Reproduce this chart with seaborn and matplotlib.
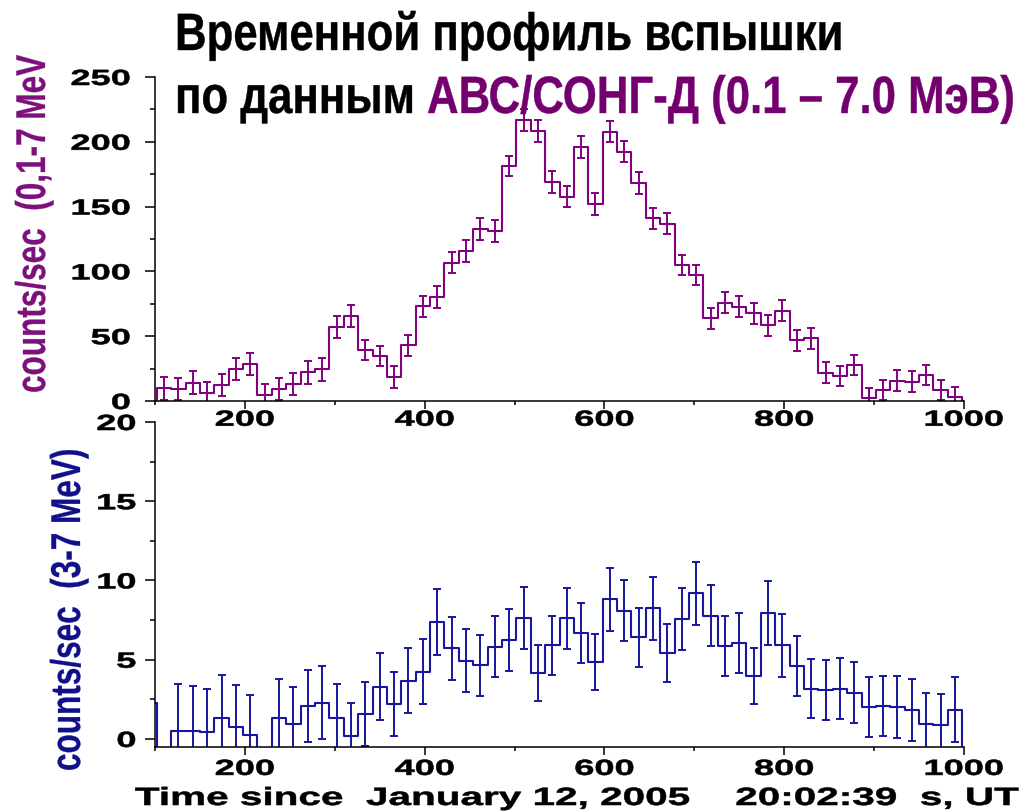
import numpy as np
import pandas as pd
import matplotlib
matplotlib.use("Agg")
import matplotlib.pyplot as plt
import seaborn as sns
from matplotlib import patheffects
from matplotlib.transforms import Affine2D
from matplotlib.ticker import MultipleLocator

nan = np.nan

# 16-s bins, centre times in seconds after 20:02:39 UT
time_bins = np.arange(94, 1007, 16)

# 0.1-7 MeV count rate and its 1-sigma errors
top_rate = [0.0, 9.8, 9.0, 14.1, 6.0, 12.5, 24.4, 28.5, 4.6, 9.0,
            13.0, 22.0, 24.4, 57.3, 65.6, 39.4, 34.7, 18.3, 43.0, 73.0,
            80.0, 106.7, 116.0, 133.0, 131.4, 181.0, 216.8, 208.6, 169.0, 157.6,
            196.0, 152.0, 207.8, 192.4, 168.0, 141.0, 136.6, 105.0, 97.2, 63.8,
            75.9, 72.8, 67.7, 58.6, 69.7, 47.0, 48.4, 21.9, 19.3, 27.8,
            2.0, 8.5, 15.7, 14.9, 20.0, 8.5, 3.3, 0.0]
top_err = [nan, 9.0, 8.5, 8.7, 8.5, 8.5, 8.5, 8.6, 8.6, 8.5,
           8.5, 8.5, 8.6, 8.6, 8.4, 7.8, 8.0, 8.4, 8.0, 8.4,
           8.4, 8.1, 8.4, 8.5, 8.5, 7.7, 8.2, 8.6, 8.6, 8.1,
           8.5, 8.4, 8.1, 8.1, 8.4, 8.1, 8.1, 8.0, 8.0, 8.1,
           8.1, 8.1, 8.1, 8.1, 8.1, 8.1, 8.1, 8.0, 8.0, 8.0,
           7.7, 8.0, 8.0, 8.0, 8.0, 7.7, 7.2, nan]

# 3-7 MeV count rate and its 1-sigma errors
low_rate = [2.29, -0.8, 0.52, 0.50, 0.42, 1.32, 0.78, 0.23, -0.8, 1.32,
            0.95, 2.08, 2.29, 1.30, 0.19, 1.58, 3.30, 2.20, 3.68, 4.25,
            7.38, 5.72, 4.94, 4.64, 5.82, 6.24, 7.63, 4.14, 5.90, 7.60,
            6.70, 4.83, 8.80, 8.09, 6.41, 8.24, 5.40, 7.55, 9.18, 7.78,
            5.86, 6.07, 3.97, 7.96, 5.90, 4.60, 3.17, 3.09, 3.17, 2.92,
            2.04, 2.08, 2.00, 1.83, 0.95, 0.88, 1.83, -0.8]
low_err = [3.1, nan, 2.93, 2.84, 2.75, 2.72, 2.62, 2.54, nan, 2.44,
           2.35, 2.27, 2.31, 2.17, 2.06, 2.02, 2.10, 2.00, 2.04, 2.03,
           2.08, 1.99, 1.98, 1.92, 1.94, 1.94, 1.97, 1.76, 1.86, 1.94,
           1.90, 1.77, 1.96, 1.93, 1.87, 1.99, 1.83, 1.95, 2.00, 1.92,
           1.90, 1.89, 1.79, 2.02, 1.97, 1.92, 1.87, 1.89, 1.91, 1.92,
           1.89, 1.92, 1.97, 1.98, 1.93, 1.96, 2.05, nan]

x_ticks = [200, 400, 600, 800, 1000]

PURPLE = "#800080"
TITLE_PURPLE = "#74006f"
LABEL_PURPLE = "#7c107c"
NAVY = "#16169e"
LABEL_NAVY = "#10108a"

W, H = 1025, 811


class Stretch(patheffects.AbstractPathEffect):
    """Scale glyph outlines along (sx) and across (sy) the reading direction."""

    def __init__(self, sx=1.0, sy=1.0, anchor="center", stroke=0.0):
        super().__init__()
        self.sx = sx
        self.sy = sy
        self.anchor = anchor
        self.stroke = stroke

    def draw_path(self, renderer, gc, tpath, affine, rgbFace=None):
        ext = tpath.get_extents()
        if self.anchor == "left":
            x0 = ext.x0
        elif self.anchor == "right":
            x0 = ext.x1
        else:
            x0 = 0.5 * (ext.x0 + ext.x1)
        squeeze = (Affine2D().translate(-x0, 0)
                   .scale(self.sx, self.sy).translate(x0, 0))
        if self.stroke > 0 and rgbFace is not None:
            gc0 = renderer.new_gc()
            gc0.copy_properties(gc)
            gc0.set_linewidth(self.stroke)
            gc0.set_foreground(rgbFace)
            gc0.set_joinstyle("round")
            renderer.draw_path(gc0, tpath, squeeze + affine, rgbFace)
            gc0.restore()
        else:
            renderer.draw_path(gc, tpath, squeeze + affine, rgbFace)


sns.set_theme(style="ticks")
plt.rcParams["font.family"] = ["Liberation Sans", "DejaVu Sans"]
plt.rcParams["font.weight"] = "bold"

fig = plt.figure(figsize=(W / 100, H / 100), dpi=100)
fig.patch.set_facecolor("white")

ax_top = fig.add_axes([155 / W, 1 - 401 / H, 809 / W, 324 / H])
ax_low = fig.add_axes([155 / W, 1 - 746.7 / H, 809 / W, 324.7 / H])


def draw_panel(ax, rate, err, color):
    df = pd.DataFrame({"t": time_bins, "rate": rate, "err": err})
    sns.lineplot(data=df, x="t", y="rate", ax=ax, color=color, linewidth=1.5,
                 drawstyle="steps-mid", estimator=None, errorbar=None)
    bars = df.dropna(subset=["err"])
    ax.errorbar(bars["t"], bars["rate"], yerr=bars["err"], fmt="none",
                ecolor=color, elinewidth=1.4, capsize=2.9, capthick=1.4)


draw_panel(ax_top, top_rate, top_err, PURPLE)
draw_panel(ax_low, low_rate, low_err, NAVY)

ax_top.set_ylim(0, 250)
ax_top.yaxis.set_major_locator(MultipleLocator(50))
ax_top.yaxis.set_minor_locator(MultipleLocator(25))
ax_low.set_ylim(-0.49, 20)
ax_low.yaxis.set_major_locator(MultipleLocator(5))
ax_low.yaxis.set_minor_locator(MultipleLocator(2.5))

for ax in (ax_top, ax_low):
    ax.set_facecolor("none")
    ax.set_xlim(100, 1000)
    ax.set_xticks(x_ticks)
    ax.xaxis.set_minor_locator(MultipleLocator(100))
    ax.set_xlabel("")
    ax.set_ylabel("")
    sns.despine(ax=ax)
    for side in ("left", "bottom"):
        ax.spines[side].set_color("black")
        ax.spines[side].set_linewidth(1.1)
    ax.tick_params(which="both", direction="out", color="black", width=1.1,
                   labelsize=15.8, labelcolor="black")
    ax.tick_params(axis="y", which="major", length=7.2, pad=6.5)
    ax.tick_params(axis="y", which="minor", length=3.6)
    ax.tick_params(axis="x", which="major", length=5.8)
    ax.tick_params(axis="x", which="minor", length=2.9)

ax_top.tick_params(axis="y", which="major", pad=10.5)
ax_top.tick_params(axis="x", which="major", pad=0.5)
ax_low.tick_params(axis="x", which="major", pad=3)

# Title: condensed bold lettering, two lines
title_fx = [Stretch(sy=1.2, anchor="left", stroke=0.3)]
fig.text(175 / W, 1 - 50 / H, "Временной профиль вспышки", fontsize=31.5,
         ha="left", va="baseline", color="black", path_effects=title_fx)
fig.text(175 / W, 1 - 113 / H, "по данным", fontsize=31.5,
         ha="left", va="baseline", color="black", path_effects=title_fx)
fig.text(427 / W, 1 - 113 / H, "АВС/СОНГ-Д (0.1 – 7.0 МэВ)", fontsize=31.5,
         ha="left", va="baseline", color=TITLE_PURPLE, path_effects=title_fx)

# Rotated axis captions, baseline on the right side of the glyphs
ylab_fx = [Stretch(sy=1.32, anchor="left", stroke=0.2)]
fig.text(45 / W, 1 - 393 / H, "counts/sec  (0,1-7 MeV", fontsize=22.7,
         rotation=90, rotation_mode="anchor", ha="left", va="baseline",
         color=LABEL_PURPLE, path_effects=ylab_fx)
fig.text(80 / W, 1 - 771 / H, "counts/sec  (3-7 MeV)", fontsize=22.7,
         rotation=90, rotation_mode="anchor", ha="left", va="baseline",
         color=LABEL_NAVY, path_effects=ylab_fx)

fig.text(135 / W, 1 - 805 / H, "Time since  January 12, 2005    20:02:39  s, UT",
         fontsize=18, ha="left", va="baseline", color="black",
         path_effects=[Stretch(sx=1.62, anchor="left", stroke=0.4)])

fig.canvas.draw()
for ax in (ax_top, ax_low):
    for lbl in ax.get_xticklabels():
        lbl.set_path_effects([Stretch(sx=1.65, anchor="center", stroke=0.4)])
    for lbl in ax.get_yticklabels():
        lbl.set_path_effects([Stretch(sx=1.65, anchor="right", stroke=0.4)])

fig.savefig("out.png", dpi=100, facecolor="white")
